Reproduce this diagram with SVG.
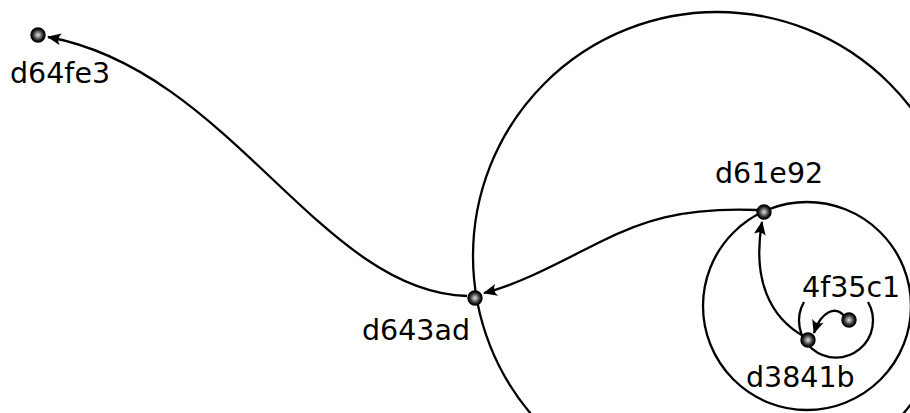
<svg xmlns="http://www.w3.org/2000/svg" width="910" height="413" viewBox="0 0 910 413">
  <style>
    .ring { fill: none; stroke: #000; stroke-width: 2.3; }
    .edge { fill: none; stroke: #000; stroke-width: 2.3; marker-end: url(#arrow); }
    .label { font-family: "DejaVu Sans", "Liberation Sans", sans-serif; font-size: 28.5px; fill: #000; }
    .dot { fill: url(#sphere); stroke: #000; stroke-width: 1.4; }
  </style>
  <defs>
    <radialGradient id="sphere" cx="0.5" cy="0.5" r="0.5">
      <stop offset="0" stop-color="#e4e4e4"/>
      <stop offset="0.35" stop-color="#8a8a8a"/>
      <stop offset="0.75" stop-color="#222"/>
      <stop offset="1" stop-color="#000"/>
    </radialGradient>
    <marker id="arrow" markerUnits="userSpaceOnUse" viewBox="-15 -8 17 16" refX="0" refY="0" markerWidth="17" markerHeight="16" orient="auto" overflow="visible">
      <path d="M1,0 L-13,-6 Q-8,0 -13,6 Z" fill="#000"/>
    </marker>
  </defs>

  <g id="rings">
    <circle class="ring" cx="717" cy="256" r="244"/>
    <circle class="ring" cx="807" cy="306" r="104"/>
    <path class="ring" d="M804,302 A37,37 0 1 0 868,302"/>
  </g>

  <g id="connectors">
    <path class="edge" d="M845,317 C836,305 821,311 814,333"/>
    <path class="edge" d="M805,337 C770,318 752,280 762,222"/>
    <path class="edge" d="M757,210 C680,207 640,222 600,242 S520,284 484,293"/>
    <path class="edge" d="M467,296 C320,292 230,70 48,37"/>
  </g>

  <g id="d64fe3">
    <circle class="dot" cx="38" cy="35" r="7"/>
    <text class="label" x="10" y="83">d64fe3</text>
  </g>
  <g id="d643ad">
    <circle class="dot" cx="475" cy="298" r="7"/>
    <text class="label" x="362" y="340">d643ad</text>
  </g>
  <g id="d61e92">
    <circle class="dot" cx="764" cy="212" r="7"/>
    <text class="label" x="715" y="183">d61e92</text>
  </g>
  <g id="d3841b">
    <circle class="dot" cx="808" cy="340" r="7"/>
    <text class="label" x="746" y="387">d3841b</text>
  </g>
  <g id="4f35c1">
    <circle class="dot" cx="849" cy="320" r="7"/>
    <text class="label" x="802" y="297">4f35c1</text>
  </g>
</svg>
